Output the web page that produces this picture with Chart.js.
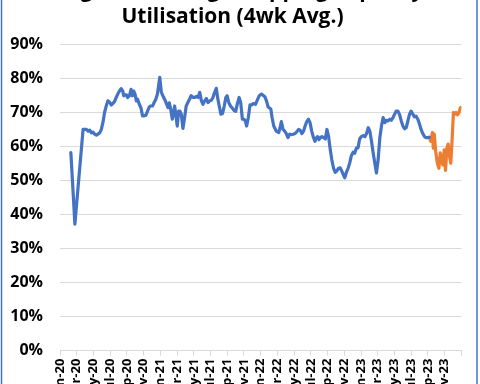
<!DOCTYPE html>
<html><head><meta charset="utf-8">
<script src="https://cdn.jsdelivr.net/npm/chart.js@4"></script>
<style>
html,body{margin:0;padding:0;background:#fff;overflow:hidden;width:480px;height:384px}
#wrap{position:absolute;left:0;top:-26px;width:480px;height:410px}
canvas{display:block}
</style></head><body>
<div id="wrap"><canvas id="c" width="480" height="410"></canvas></div>
<script>
const SHIFT = 26;
const titleLines = ['Weighted Average Shipping Capacity', 'Utilisation (4wk Avg.)'];
const xTickLabels = ['Jan-20','Mar-20','May-20','Jul-20','Sep-20','Nov-20',
  'Jan-21','Mar-21','May-21','Jul-21','Sep-21','Nov-21',
  'Jan-22','Mar-22','May-22','Jul-22','Sep-22','Nov-22',
  'Jan-23','Mar-23','May-23','Jul-23','Sep-23','Nov-23'];
const yTicks = [0,10,20,30,40,50,60,70,80,90];

// x = months since 1 Jan 2020, y = utilisation %
const blueMonths = [1.30,1.78,2.76,3.16,3.36,3.56,3.76,3.95,4.15,4.35,4.74,4.94,5.13,5.33,5.53,5.72,5.93,6.13,6.32,6.52,6.72,6.91,7.11,7.31,7.50,7.62,7.79,7.94,8.09,8.30,8.50,8.65,8.81,8.97,9.13,9.28,9.48,9.68,9.87,10.07,10.28,10.47,10.67,10.87,11.06,11.26,11.46,11.65,11.93,12.12,12.36,12.56,12.76,12.92,13.07,13.24,13.43,13.55,13.71,13.87,14.02,14.19,14.34,14.50,14.70,14.90,15.09,15.29,15.49,15.68,15.92,16.12,16.32,16.51,16.71,16.91,17.10,17.30,17.51,17.70,17.90,18.10,18.29,18.49,18.69,18.88,19.04,19.24,19.44,19.64,19.83,19.99,20.18,20.39,20.62,20.82,21.01,21.21,21.42,21.61,21.81,22.01,22.16,22.32,22.52,22.72,22.91,23.11,23.38,23.59,23.82,24.09,24.50,24.69,24.89,25.21,25.36,25.56,25.87,26.16,26.31,26.47,26.67,26.87,27.06,27.26,27.46,27.65,27.89,28.12,28.33,28.53,28.72,28.92,29.12,29.31,29.51,29.71,29.90,30.10,30.30,30.49,30.66,30.81,30.97,31.14,31.32,31.53,31.73,31.92,32.12,32.32,32.51,32.71,32.91,33.10,33.30,33.51,33.69,33.90,34.05,34.25,34.45,34.64,34.84,35.05,35.24,35.44,35.64,35.83,36.03,36.27,36.47,36.66,36.86,37.06,37.25,37.45,37.65,37.84,38.04,38.25,38.44,38.64,38.84,39.03,39.23,39.43,39.62,39.82,40.02,40.21,40.41,40.62,40.81,41.01,41.21,41.40,41.60,41.80,41.99,42.19,42.39,42.58,42.79,42.99,43.18,43.38,43.58,43.77,43.97,44.17];
const blueUtil = [58.2,37.2,65.0,65.0,64.5,64.8,64.0,64.2,63.6,63.3,64.0,65.0,67.0,70.0,71.9,73.4,73.0,72.2,72.6,73.2,74.4,75.4,76.3,77.0,76.3,74.9,75.2,75.2,74.4,74.9,76.8,74.9,76.3,75.4,73.4,73.9,72.4,71.4,69.0,69.0,69.2,70.4,71.6,71.9,71.9,72.9,73.9,75.4,80.3,75.9,74.6,73.6,72.4,71.4,72.8,71.0,68.0,69.5,71.9,69.0,66.0,70.4,70.4,69.5,65.3,68.5,71.9,72.9,73.9,74.9,74.4,74.4,74.7,74.4,75.9,73.4,72.4,73.4,74.1,72.9,73.4,73.6,74.4,75.9,77.1,73.9,71.9,69.5,69.7,71.9,74.4,74.9,72.9,71.9,71.2,70.6,70.3,72.6,74.4,72.9,68.0,68.0,67.5,66.0,68.5,72.2,72.2,72.6,72.4,73.6,74.9,75.4,74.6,73.4,71.6,71.0,68.5,66.0,64.5,64.1,65.5,67.3,65.0,64.5,63.8,62.6,63.6,63.5,63.6,63.8,64.4,65.0,64.8,63.8,64.5,66.0,67.3,68.0,67.0,64.5,62.7,61.5,62.6,62.9,62.0,62.6,62.9,62.6,62.2,65.0,62.9,59.0,56.0,53.6,52.4,52.8,53.6,53.7,52.8,51.6,50.8,52.4,53.6,55.1,57.3,58.3,58.0,59.5,59.6,62.2,62.9,63.2,62.9,63.8,65.5,64.4,61.5,58.1,55.1,52.2,56.0,62.6,66.0,68.5,67.0,67.7,67.5,68.0,67.7,68.5,69.5,70.4,70.4,69.3,67.5,66.0,65.2,65.5,67.5,69.5,70.4,69.5,68.7,68.9,68.0,66.6,65.0,63.8,62.9,62.6,62.6,62.7];
const orangeMonths = [44.17,44.33,44.53,44.64,44.76,44.92,45.12,45.31,45.47,45.63,45.78,45.95,46.10,46.26,46.42,46.58,46.73,46.90,47.05,47.21,47.37,47.53,47.69,47.84,47.91];
const orangeUtil = [62.7,61.5,64.1,59.5,63.6,58.6,55.1,53.6,58.1,56.0,54.6,59.0,53.0,59.5,60.7,57.1,55.1,62.6,70.0,69.5,70.0,69.3,69.8,71.2,71.5];

const toPoints = (xs, ys) => xs.map((x, i) => ({x: x, y: ys[i]}));

const frame = {
  id: 'frame',
  beforeDraw(c) { const ctx = c.ctx; ctx.save(); ctx.fillStyle = '#fff'; ctx.fillRect(0, 0, c.width, c.height); ctx.restore(); },
  afterDraw(c) {
    const ctx = c.ctx; ctx.save(); ctx.strokeStyle = '#4472C4'; ctx.lineWidth = 1.5;
    ctx.beginPath(); ctx.moveTo(1.5, 0); ctx.lineTo(1.5, c.height); ctx.moveTo(477, 0); ctx.lineTo(477, c.height); ctx.stroke(); ctx.restore();
  }
};

new Chart(document.getElementById('c'), {
  type: 'line',
  data: { datasets: [
    { data: toPoints(blueMonths, blueUtil), borderColor: '#4472C4', borderWidth: 3.2, pointRadius: 0, tension: 0, borderJoinStyle: 'round', borderCapStyle: 'round' },
    { data: toPoints(orangeMonths, orangeUtil), borderColor: '#ED7D31', borderWidth: 3.2, pointRadius: 0, tension: 0, borderJoinStyle: 'round', borderCapStyle: 'round' }
  ]},
  options: {
    responsive: false, animation: false, devicePixelRatio: 1,
    layout: { padding: { left: 0, right: 15, top: 0, bottom: 0 } },
    plugins: {
      legend: { display: false }, tooltip: { enabled: false },
      title: { display: true, text: titleLines, color: '#000',
        font: { family: 'Open Sans', size: 21, weight: 'bold', lineHeight: 1.25 },
        padding: { top: 4, bottom: 13.9 } }
    },
    scales: {
      x: { type: 'linear', min: 0, max: 48,
        afterFit(s) { s.height = 33.4; },
        ticks: { stepSize: 2, autoSkip: false, minRotation: 90, maxRotation: 90, padding: 3, color: '#000',
          font: { family: 'Open Sans', size: 13, weight: 'bold' },
          callback: (v) => (v % 2 === 0 && v / 2 < xTickLabels.length) ? xTickLabels[v / 2] : '' },
        grid: { drawOnChartArea: false, drawTicks: true, tickLength: 5, color: '#d9d9d9', lineWidth: 1 },
        border: { display: true, color: '#d9d9d9', width: 1 } },
      y: { min: yTicks[0], max: yTicks[yTicks.length - 1],
        afterFit(s) { s.width = 60; },
        ticks: { stepSize: 10, padding: 17, color: '#000',
          font: { family: 'Open Sans', size: 16, weight: 'bold' },
          callback: (v) => v + '%' },
        grid: { color: '#d9d9d9', lineWidth: 1, drawTicks: false },
        border: { display: false } }
    }
  },
  plugins: [frame]
});
</script>
</body></html>
